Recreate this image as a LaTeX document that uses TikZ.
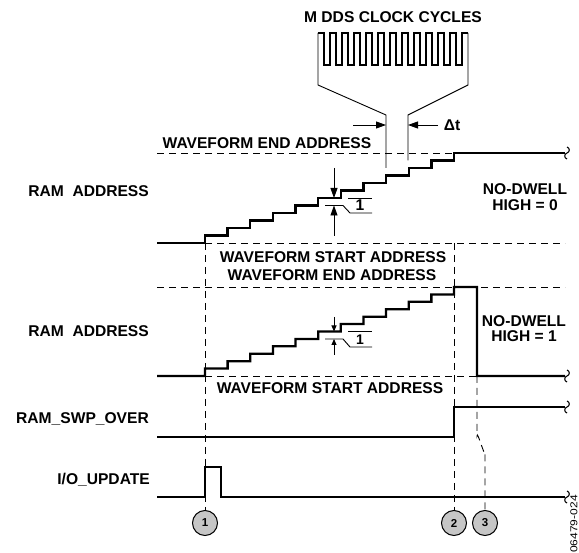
\documentclass[tikz,border=0pt]{standalone}
\usepackage{fontspec}
\setmainfont{Liberation Sans}
\usetikzlibrary{arrows.meta}
\begin{document}
\begin{tikzpicture}[x=1pt,y=-1pt,
  lbl/.style={font=\fontsize{15.6}{15.6}\selectfont\bfseries, inner sep=0pt},
  lblsm/.style={font=\fontsize{14}{14}\selectfont\bfseries, inner sep=0pt},
  sig/.style={line width=2.3pt, line join=miter},
  fine/.style={line width=0.9pt},
  dsh/.style={line width=0.9pt, dash pattern=on 7pt off 5pt},
  bigarr/.style={fine, -{Triangle[length=10pt,width=7pt]}},
  smarr/.style={fine, -{Triangle[length=6pt,width=5pt]}},
  circ/.style={circle, draw, fill=gray!45, minimum size=25pt, inner sep=0pt, line width=1pt, font=\fontsize{11.5}{11.5}\selectfont\bfseries},
  brk/.pic={\draw[line width=1.1pt] (0,-6) .. controls (3,-5) and (3,-1) .. (0,0) .. controls (-3,1) and (-3,5) .. (0,6);}
]
\useasboundingbox (0,0) rectangle (579,553);

% ---- labels on the left
\node[lbl, anchor=base east] (lra1) at (149,196.6) {RAM~ ADDRESS};
\node[lbl, anchor=base east] (lra2) at (149,336.6) {RAM~ ADDRESS};
\node[lbl, anchor=base east] (lswp) at (149,423.6) {RAM\_SWP\_OVER};
\node[lbl, anchor=base east] (lio) at (150,484.6) {I/O\_UPDATE};

% ---- clock cycles
\node[lbl, anchor=base] (mdds) at (393,22.6) {M DDS CLOCK CYCLES};
\draw[line width=1.7pt] (318,33) \foreach \i in {0,...,11}{ -- ++(6,0) -- ++(0,32) -- ++(6,0) -- ++(0,-32)} -- ++(6,0);
\draw[fine] (318,33) -- (318,85) -- (386,115) -- (386,168);
\draw[fine] (468,33) -- (468,85) -- (408,115) -- (408,160.5);
\draw[bigarr] (353,125) -- (386,125);
\draw[bigarr] (438,125) -- (408,125);
\node[lbl] (dt) at (452,125) {Δt};

% ---- panel 1
\draw[dsh] (157,153) -- (454,153);
\node[lbl, anchor=base] (wea1) at (267,148.6) {WAVEFORM END ADDRESS};
\draw[dsh] (205,243) -- (565,243);
\node[lbl, anchor=base] (wsa1) at (333,262.6) {WAVEFORM START ADDRESS};
\draw[sig] (157,243) -- (205,243) \foreach \k in {1,...,11}{ -- ++(0,-7.5) -- ++(22.636,0)} -- ++(0,-7.5) -- (565,153);
\pic at (567,153) {brk};
\draw[bigarr] (334,168) -- (334,198);
\draw[bigarr] (334,236) -- (334,205.5);
\draw[fine] (325,205.5) -- (343,205.5) -- (350,213) -- (372,213);
\draw[fine] (348,198) -- (372,198);
\node[lbl] (one1) at (360,205.5) {1};
\node[lbl, anchor=base] (nd0a) at (525,194.6) {NO-DWELL};
\node[lbl, anchor=base] (nd0b) at (525,210.3) {HIGH = 0};

% ---- panel 2
\node[lbl, anchor=base] (wea2) at (332,281) {WAVEFORM END ADDRESS};
\draw[dsh] (157,287) -- (565,287);
\draw[dsh] (205,376) -- (477,376);
\node[lbl, anchor=base] (wsa2) at (330,394) {WAVEFORM START ADDRESS};
\draw[sig] (157,376) -- (205,376) \foreach \k in {1,...,11}{ -- ++(0,-7.417) -- ++(22.636,0)} -- ++(0,-7.417) -- (477,287) -- (477,376) -- (565,376);
\pic at (567,376) {brk};
\draw[smarr] (334,317) -- (334,331.5);
\draw[smarr] (334,355) -- (334,339);
\draw[fine] (325,339) -- (343,339) -- (350,347) -- (372,347);
\draw[fine] (348,331.5) -- (372,331.5);
\node[lblsm] (one2) at (360,339.5) {1};
\node[lbl, anchor=base] (nd1a) at (524,326.6) {NO-DWELL};
\node[lbl, anchor=base] (nd1b) at (524,341.6) {HIGH = 1};

% ---- RAM_SWP_OVER
\draw[sig] (157,437) -- (454,437) -- (454,407) -- (565,407);
\pic at (567,407) {brk};

% ---- I/O_UPDATE
\draw[sig] (157,497) -- (205,497) -- (205,467) -- (221,467) -- (221,497) -- (565,497);
\pic at (567,497) {brk};

% ---- markers
\node[circ] (m1) at (205,523) {1};
\node[circ] (m2) at (454,523) {2};
\node[circ] (m3) at (485,523) {3};
\draw[dsh] (205,243) -- (m1.north);
\draw[dsh] (454,243) -- (m2.north);
\draw[dsh] (477,376) -- (477,436) to[out=90,in=-90] (485,452) -- (m3.north);

% ---- figure number
\node[inner sep=0pt, rotate=90] (fig) at (574,524) {\scalebox{1.2}[1]{\fontsize{10}{10}\selectfont 06479-024}};
\end{tikzpicture}
\end{document}
